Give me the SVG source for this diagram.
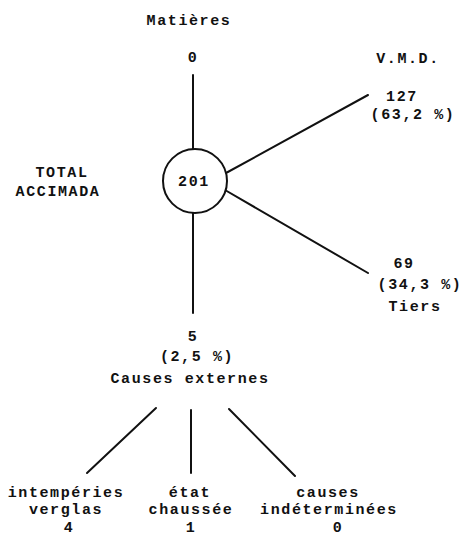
<svg xmlns="http://www.w3.org/2000/svg" width="470" height="540" viewBox="0 0 470 540">
<style>
text{font-family:"Liberation Mono","DejaVu Sans Mono",monospace;font-size:15px;font-weight:bold;letter-spacing:1.6px;text-anchor:middle;fill:#111}
.c line{stroke:#111;stroke-width:2;stroke-linecap:round}
.n circle{fill:#fff;stroke:#111;stroke-width:2}
</style>
<rect width="470" height="540" fill="#fff"/>
<g class="c" id="connectors">
<line x1="193" y1="75" x2="193" y2="150"/>
<line x1="226" y1="173" x2="368" y2="95"/>
<line x1="225" y1="190" x2="368" y2="273"/>
<line x1="193" y1="213" x2="193" y2="313"/>
<line x1="156" y1="408" x2="87" y2="473"/>
<line x1="191" y1="410" x2="191" y2="473"/>
<line x1="229" y1="409" x2="295" y2="476"/>
</g>
<g class="n" id="total">
<circle cx="195" cy="181" r="32"/>
<text x="194" y="186">201</text>
<text x="62" y="177">TOTAL</text>
<text x="58" y="196">ACCIMADA</text>
</g>
<g class="n" id="matieres">
<text x="189" y="25">Matières</text>
<text x="193" y="62">0</text>
</g>
<g class="n" id="vmd">
<text x="408" y="63">V.M.D.</text>
<text x="402" y="101">127</text>
<text x="413" y="119">(63,2 %)</text>
</g>
<g class="n" id="tiers">
<text x="404" y="268">69</text>
<text x="420" y="289">(34,3 %)</text>
<text x="415" y="311">Tiers</text>
</g>
<g class="n" id="causes-externes">
<text x="193" y="341">5</text>
<text x="197" y="361">(2,5 %)</text>
<text x="190" y="383">Causes externes</text>
</g>
<g class="n" id="intemperies">
<text x="66" y="497">intempéries</text>
<text x="66" y="514">verglas</text>
<text x="69" y="532">4</text>
</g>
<g class="n" id="etat">
<text x="190" y="497">état</text>
<text x="191" y="514">chaussée</text>
<text x="191" y="532">1</text>
</g>
<g class="n" id="indeterminees">
<text x="328" y="497">causes</text>
<text x="329" y="514">indéterminées</text>
<text x="338" y="532">0</text>
</g>
</svg>
